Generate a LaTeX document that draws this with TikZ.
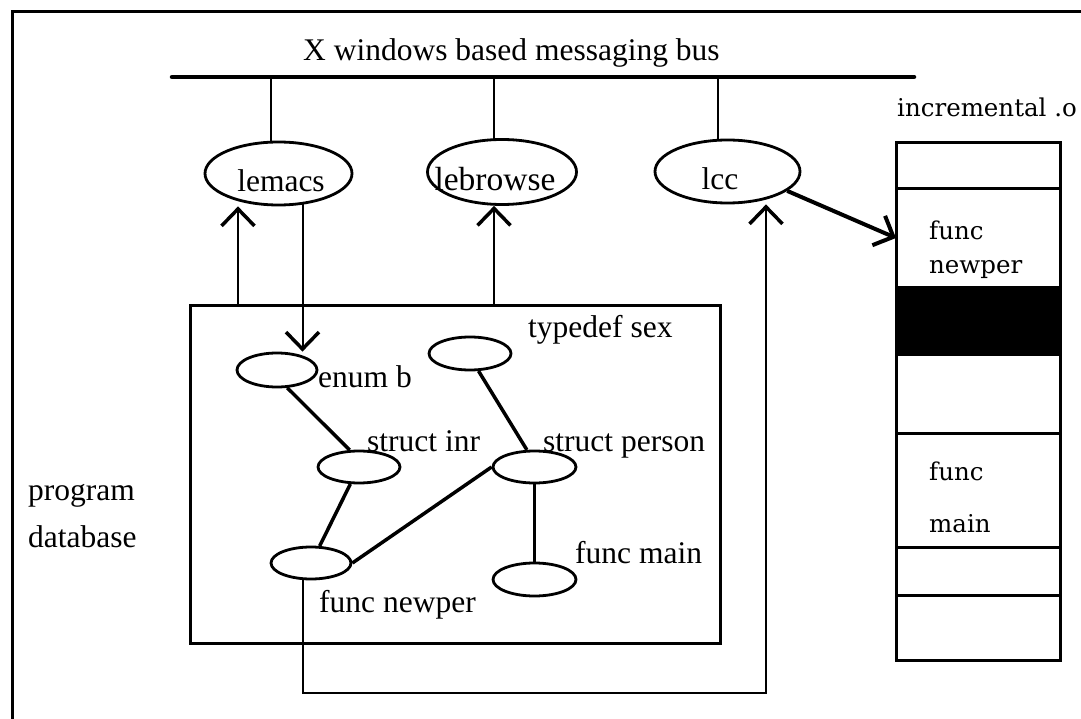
\documentclass[tikz,border=0pt]{standalone}
\usepackage{fontspec}
\setmainfont{Liberation Serif}
\newfontfamily\colfont{DejaVu Serif}
\usetikzlibrary{arrows.meta,shapes.geometric,backgrounds}

\tikzset{
  txt/.style={inner sep=0pt, anchor=base west, font=\fontsize{31.5}{36}\selectfont},
  ctxt/.style={inner sep=0pt, anchor=base, font=\fontsize{31.5}{36}\selectfont},
  coltxt/.style={inner sep=0pt, anchor=base west, font=\colfont\fontsize{24.5}{28}\selectfont},
  proc/.style={ellipse, draw, line width=2.8pt, fill=white, minimum width=147pt, minimum height=63pt, inner sep=0pt},
  entity/.style={ellipse, draw, line width=2.8pt, fill=white, minimum height=33pt, inner sep=0pt},
  busline/.style={line width=4.5pt, line cap=round},
  drop/.style={line width=2pt},
  link/.style={line width=3.5pt},
  flow/.style={line width=2pt, -{Straight Barb[length=17pt,width=33pt,line width=3.5pt]}},
  slot/.style={draw, line width=3pt, minimum width=164pt, inner sep=0pt, outer sep=0pt, anchor=north},
}

\begin{document}
\begin{tikzpicture}[x=1pt, y=-1pt]
\useasboundingbox (0,0) rectangle (1081,719);

% frame
\draw[line width=3pt] (1081,12) -- (12,12) -- (12,719);

% messaging bus
\node[txt] (title) at (303,61) {X windows based messaging bus};
\coordinate (busL) at (172,77);
\coordinate (busR) at (914,77);
\draw[busline] (busL) -- (busR);
\coordinate (t1) at (271,77);
\coordinate (t2) at (494,77);
\coordinate (t3) at (718,77);

% tools on the bus
\node[proc] (lemacs) at (278.5,173.5) {};
\node[proc, minimum width=149pt, minimum height=65pt] (lebrowse) at (502,172) {};
\node[proc, minimum width=145pt] (lcc) at (727.5,171.5) {};
\node[ctxt] (lemacsT) at (281,192) {lemacs};
\node[ctxt, font=\fontsize{33.5}{38}\selectfont] (lebrowseT) at (495,191) {lebrowse};
\node[ctxt] (lccT) at (720,190) {lcc};

% program database
\node[draw, line width=3pt, minimum width=530pt, minimum height=338pt, inner sep=0pt, outer sep=0pt, anchor=north west] (db) at (190,305) {};
\node[txt] (progT) at (28,500) {program};
\node[txt] (dbT) at (28,547) {database};

\node[entity, minimum width=80pt, minimum height=34pt] (enumb) at (277,370) {};
\node[entity, minimum width=82pt] (typedef) at (470,353.5) {};
\node[entity, minimum width=82pt, minimum height=32pt] (sinr) at (359,467) {};
\node[entity, minimum width=83pt, minimum height=32pt] (sper) at (534.5,467) {};
\node[entity, minimum width=80pt, minimum height=32pt] (fnew) at (311,563) {};
\node[entity, minimum width=83pt] (fmain) at (534.5,579.5) {};

\node[txt] (typedefT) at (528,337) {typedef sex};
\node[txt] (enumbT) at (318,387) {enum b};
\node[txt] (sinrT) at (367,451) {struct inr};
\node[txt] (sperT) at (543,451) {struct person};
\node[txt] (fmainT) at (575,563) {func main};
\node[txt] (fnewT) at (319,612) {func newper};

\draw[link] (enumb.-60) -- (sinr.119);
\draw[link] (sinr.-117) -- (fnew.63);
\draw[link] (fnew.east) -- (sper.west);
\draw[link] (typedef.-64) -- (sper.114);
\draw[link] (sper.south) -- (fmain.north);

% incremental object file
\node[coltxt] (incT) at (897,117) {incremental .o};
\node[slot, minimum height=46pt] (s1) at (978,143) {};
\node[slot, minimum height=98pt] (s2) at (s1.south) {};
\node[slot, minimum height=67pt, fill=black] (s3) at (s2.south) {};
\node[slot, minimum height=79pt] (s4) at (s3.south) {};
\node[slot, minimum height=114pt] (s5) at (s4.south) {};
\node[slot, minimum height=48pt] (s6) at (s5.south) {};
\node[slot, minimum height=65pt] (s7) at (s6.south) {};
\node[coltxt] (s2a) at (929,240) {func};
\node[coltxt] (s2b) at (929,273) {newper};
\node[coltxt] (s5a) at (929,480) {func};
\node[coltxt] (s5b) at (929,532) {main};

\draw[line width=4pt, -{Straight Barb[length=16pt,width=32pt,line width=4pt]}] (lcc.-18) -- (s2.west);

% arrows between the database and the tools
\coordinate (upL) at (238,305);
\coordinate (dnL) at (302.5,305);
\coordinate (upB) at (494,305);
\coordinate (rl) at (302.5,693);
\coordinate (rr) at (766,693);

\draw[flow] (upL) -- (upL |- lemacs.south);
\draw[flow] (upB) -- (upB |- lebrowse.south);

\begin{pgfonlayer}{background}
\draw[drop] (t1) -- (t1 |- lemacs.center);
\draw[drop] (t2) -- (t2 |- lebrowse.center);
\draw[drop] (t3) -- (t3 |- lcc.center);
\draw[flow] (dnL |- lemacs.center) -- (dnL |- enumb.north);
\draw[flow] (rl |- fnew.center) -- (rl) -- (rr) -- (rr |- lcc.south);
\end{pgfonlayer}
\end{tikzpicture}
\end{document}
